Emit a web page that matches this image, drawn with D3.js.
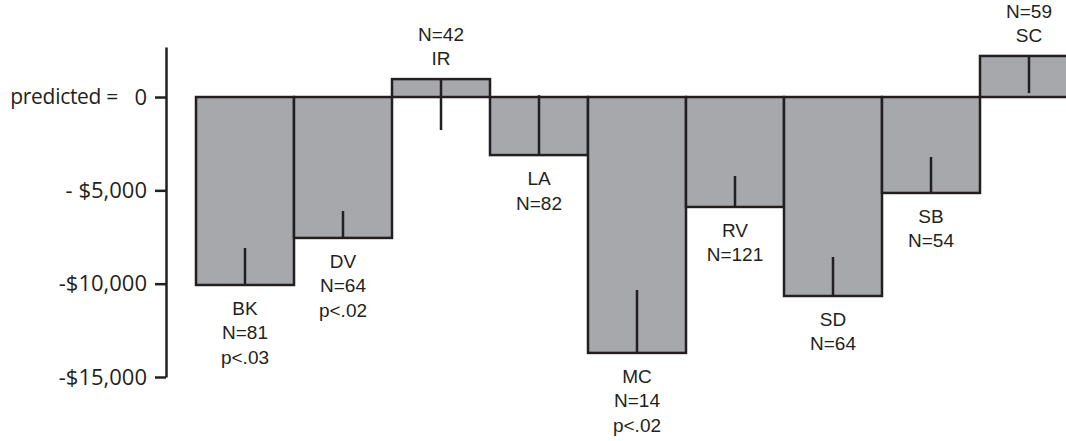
<!DOCTYPE html>
<html>
<head>
<meta charset="utf-8">
<script src="https://cdn.jsdelivr.net/npm/d3@7"></script>
<style>
  body { margin: 0; background: #fff; }
</style>
</head>
<body>
<div id="chart"></div>
<script>
// data
const sites = ["BK", "DV", "IR", "LA", "MC", "RV", "SD", "SB", "SC"];
const diffs = [-10070, -7550, 960, -3110, -13710, -5890, -10660, -5140, 2200];
const errEnds = [-8090, -6110, -1770, 100, -10340, -4230, -8570, -3210, 210];
const nLabels = ["N=81", "N=64", "N=42", "N=82", "N=14", "N=121", "N=64", "N=54", "N=59"];
const pLabels = ["p<.03", "p<.02", "", "", "p<.02", "", "", "", ""];
const tickVals = [0, -5000, -10000, -15000];
const tickText = ["0", "- $5,000", "-$10,000", "-$15,000"];

const width = 1066, height = 441;
const ink = "#231f20", barFill = "#a7a8ab";

const svg = d3.select("#chart").append("svg")
  .attr("width", width)
  .attr("height", height);

// scales
const x = d3.scaleBand().domain(sites).range([196, 1078]).padding(0);
const y = d3.scaleLinear().domain([-15000, 2680]).range([377, 47]);

// **** axis ****
const axis = d3.axisLeft(y)
  .tickValues(tickVals)
  .tickSize(11)
  .tickSizeOuter(0)
  .tickPadding(8)
  .tickFormat((d, i) => tickText[i]);

const gAxis = svg.append("g")
  .attr("transform", "translate(166,0)")
  .call(axis);

gAxis.select(".domain").attr("stroke", ink).attr("stroke-width", 2.5);
gAxis.selectAll(".tick line").attr("stroke", ink).attr("stroke-width", 2.5);
gAxis.selectAll(".tick text")
  .attr("fill", ink)
  .attr("font-family", "'Open Sans', sans-serif")
  .attr("font-size", 22)
  .attr("dy", "0.33em");

svg.append("text")
  .attr("x", 118).attr("y", y(0))
  .attr("dy", "0.33em")
  .attr("text-anchor", "end")
  .attr("fill", ink)
  .attr("font-family", "'Open Sans', sans-serif")
  .attr("font-size", 21)
  .attr("letter-spacing", -0.3)
  .text("predicted =");

// **** bars ****
const rows = sites.map((s, i) => ({ s, v: diffs[i], e: errEnds[i], n: nLabels[i], p: pLabels[i] }));

const bar = svg.append("g").selectAll("g")
  .data(rows)
  .join("g");

bar.append("rect")
  .attr("x", d => x(d.s))
  .attr("y", d => y(Math.max(0, d.v)))
  .attr("width", x.bandwidth())
  .attr("height", d => Math.abs(y(d.v) - y(0)))
  .attr("fill", barFill)
  .attr("stroke", ink)
  .attr("stroke-width", 2.5);

bar.append("line")
  .attr("x1", d => x(d.s) + x.bandwidth() / 2)
  .attr("x2", d => x(d.s) + x.bandwidth() / 2)
  .attr("y1", d => y(d.v))
  .attr("y2", d => y(d.e))
  .attr("stroke", ink)
  .attr("stroke-width", 2.5);

// labels
const lh = 24.5;
bar.each(function(d) {
  const g = d3.select(this);
  const cx = x(d.s) + x.bandwidth() / 2;
  let lines;
  let y0;
  if (d.v >= 0) {
    lines = [d.n, d.s];
    y0 = y(d.v) - 14 - 24;
  } else {
    lines = [d.s, d.n, d.p].filter(t => t);
    y0 = y(d.v) + 30;
  }
  lines.forEach((t, k) => {
    g.append("text")
      .attr("x", cx)
      .attr("y", y0 + k * (d.v >= 0 ? 24 : lh))
      .attr("text-anchor", "middle")
      .attr("fill", ink)
      .attr("font-family", "'Liberation Sans', Arial, sans-serif")
      .attr("font-size", 19)
      .text(t);
  });
});
</script>
</body>
</html>
